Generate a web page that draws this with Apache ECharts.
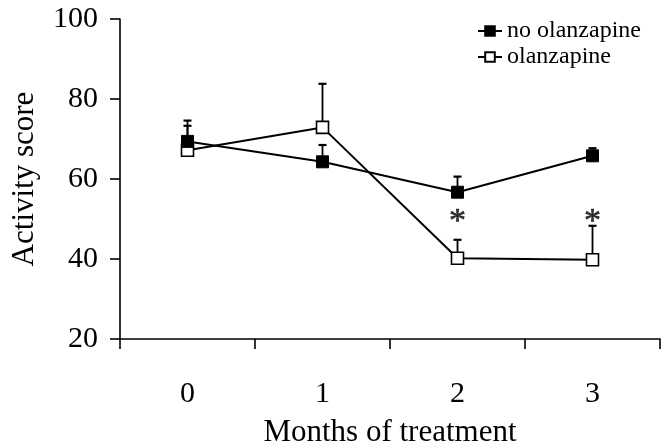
<!DOCTYPE html>
<html>
<head>
<meta charset="utf-8">
<script src="https://cdn.jsdelivr.net/npm/echarts@6/dist/echarts.min.js"></script>
<style>
html,body{margin:0;padding:0;background:#fff;}
#chart{width:661px;height:447px;}
</style>
</head>
<body>
<div id="chart"></div>
<script>
var categories = ['0', '1', '2', '3'];
var noOlanzapine = [69.4, 64.3, 56.7, 65.8];
var noOlanzapineErrTop = [74.6, 68.5, 60.6, 67.7];
var olanzapine = [67.2, 72.9, 40.2, 39.8];
var olanzapineErrTop = [73.3, 83.8, 44.8, 48.3];
var asteriskValues = [null, null, 51.2, 51.2];
var yTicks = [20, 40, 60, 80, 100];
var seriesNames = ['no olanzapine', 'olanzapine'];

var FONT = '"Liberation Serif", "Times New Roman", serif';

function errData(ys, tops) { return ys.map(function (y, i) { return [i, y, tops[i]]; }); }

function errorRender(params, api) {
  var x = api.value(0);
  var p0 = api.coord([x, api.value(1)]);
  var p1 = api.coord([x, api.value(2)]);
  var half = 4;
  return {
    type: 'group',
    children: [
      { type: 'line', shape: { x1: p0[0], y1: p0[1], x2: p1[0], y2: p1[1] }, style: { stroke: '#000', lineWidth: 1.8 } },
      { type: 'line', shape: { x1: p1[0] - half, y1: p1[1], x2: p1[0] + half, y2: p1[1] }, style: { stroke: '#000', lineWidth: 2.2 } }
    ]
  };
}

var chart = echarts.init(document.getElementById('chart'), null, { renderer: 'canvas' });
chart.setOption({
  animation: false,
  backgroundColor: '#fff',
  textStyle: { fontFamily: FONT },
  grid: { left: 120, top: 19, right: 1, bottom: 108, containLabel: false, outerBoundsMode: 'none' },
  legend: {
    orient: 'vertical',
    left: 472,
    top: 14,
    itemWidth: 24,
    itemHeight: 12,
    itemGap: 2,
    data: seriesNames,
    textStyle: { fontFamily: FONT, fontSize: 24, color: '#000' }
  },
  xAxis: {
    type: 'category',
    data: categories,
    boundaryGap: true,
    name: 'Months of treatment',
    nameLocation: 'middle',
    nameGap: 78,
    nameTextStyle: { fontFamily: FONT, fontSize: 31, color: '#000' },
    axisLine: { onZero: false, lineStyle: { color: '#000', width: 1.6 } },
    axisTick: { show: true, length: 10, lineStyle: { color: '#000', width: 1.6 } },
    axisLabel: { fontFamily: FONT, fontSize: 30, color: '#000', margin: 40 },
    splitLine: { show: false }
  },
  yAxis: {
    type: 'value',
    min: yTicks[0],
    max: yTicks[yTicks.length - 1],
    interval: 20,
    name: 'Activity score',
    nameLocation: 'middle',
    nameGap: 80,
    nameTextStyle: { fontFamily: FONT, fontSize: 31, color: '#000' },
    axisLine: { show: true, onZero: false, lineStyle: { color: '#000', width: 1.6 } },
    axisTick: { show: true, length: 10, lineStyle: { color: '#000', width: 1.6 } },
    axisLabel: { fontFamily: FONT, fontSize: 30, color: '#000', margin: 22 },
    splitLine: { show: false }
  },
  series: [
    {
      type: 'custom',
      renderItem: errorRender,
      data: errData(noOlanzapine, noOlanzapineErrTop),
      z: 1,
      silent: true
    },
    {
      type: 'custom',
      renderItem: errorRender,
      data: errData(olanzapine, olanzapineErrTop),
      z: 1,
      silent: true
    },
    {
      name: seriesNames[1],
      type: 'line',
      data: olanzapine,
      symbol: 'rect',
      symbolSize: 12,
      lineStyle: { color: '#000', width: 2 },
      itemStyle: { color: '#fff', borderColor: '#000', borderWidth: 1.6 },
      z: 3
    },
    {
      name: seriesNames[0],
      type: 'line',
      data: noOlanzapine,
      symbol: 'rect',
      symbolSize: 12,
      lineStyle: { color: '#000', width: 2 },
      itemStyle: { color: '#000', borderColor: '#000', borderWidth: 1 },
      z: 4
    },
    {
      type: 'scatter',
      data: asteriskValues,
      symbolSize: 0,
      silent: true,
      label: {
        show: true,
        position: 'inside',
        formatter: '*',
        fontFamily: FONT,
        fontSize: 34,
        color: '#000',
        textBorderColor: '#000',
        textBorderWidth: 0.6,
        offset: [0, 8]
      },
      z: 5
    }
  ]
});
</script>
</body>
</html>
